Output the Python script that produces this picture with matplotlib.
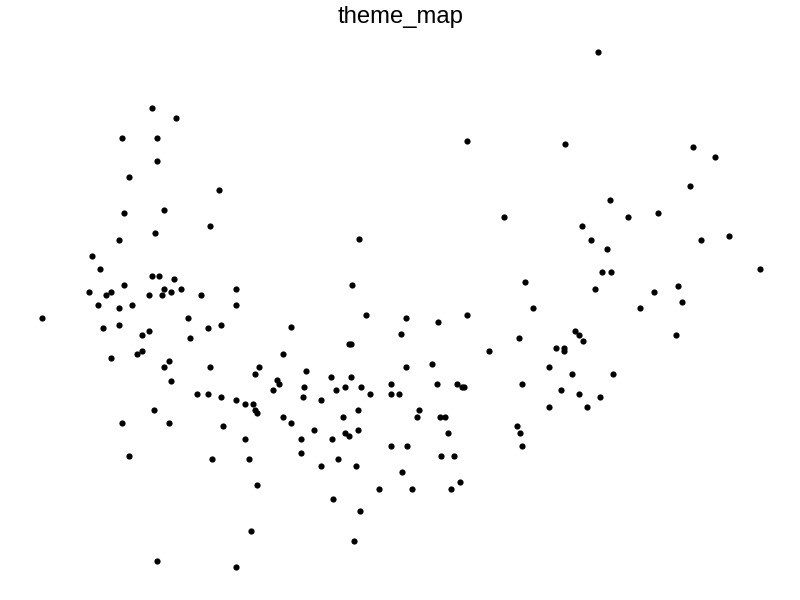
import matplotlib
matplotlib.use("Agg")
import matplotlib.pyplot as plt

# values
x = [598,152,176,122,157,467,565,693,715,157,129,690,219,610,164,124,628,658,504,210,
     582,155,119,359,591,701,729,607,92,100,760,602,611,152,159,174,525,181,124,164,
     236,352,678,595,89,106,111,149,162,171,201,654,682,236,98,132,119,533,640,
     366,467,42,188,406,438,119,103,149,142,208,221,291,190,401,519,575,579,676,583,
     349,351,556,564,564,489,142,137,111,283,169,164,210,259,306,406,432,549,255,613,572,
     171,277,279,331,351,345,336,304,391,437,457,462,464,522,197,208,221,273,303,321,
     361,370,391,399,561,579,600,236,245,253,255,257,154,549,587,358,419,417,283,291,
     343,440,445,122,169,223,314,358,517,345,349,332,520,448,245,301,522,391,407,301,
     129,212,249,338,441,454,321,356,402,257,379,412,451,460,333,360,251,354,157,236]
y = [52,108,118,138,138,141,144,147,157,161,177,186,190,200,210,213,217,213,217,226,
     226,233,240,239,240,240,236,249,256,269,269,272,272,276,276,279,282,289,285,289,
     289,285,286,289,292,295,292,295,295,292,295,292,302,305,305,305,308,308,308,
     315,315,318,318,318,322,325,328,331,335,328,325,327,338,334,338,331,335,335,341,
     344,344,348,348,351,351,351,354,358,354,361,367,367,367,371,367,364,367,374,374,374,
     381,380,384,377,377,387,390,387,384,384,384,387,387,384,394,394,397,390,397,400,
     387,394,394,394,390,394,397,400,404,404,410,413,410,407,407,410,410,417,417,423,
     417,417,417,423,423,426,430,430,426,433,436,439,433,433,439,439,446,446,446,453,
     456,459,459,459,456,456,466,466,472,485,489,489,489,482,499,511,531,541,561,567]
title = "theme_map"

fig = plt.figure(figsize=(8, 6), dpi=100)
ax = fig.add_axes([0, 0, 1, 1])
ax.scatter(x, y, s=20, c="black", linewidths=0)
ax.set_xlim(0.5, 800.5)
ax.set_ylim(600, 0)
ax.axis("off")
ax.text(401, 16.5, title, ha="center", va="center", fontsize=17.2, family="Liberation Sans")
fig.savefig("out.png", dpi=100)
